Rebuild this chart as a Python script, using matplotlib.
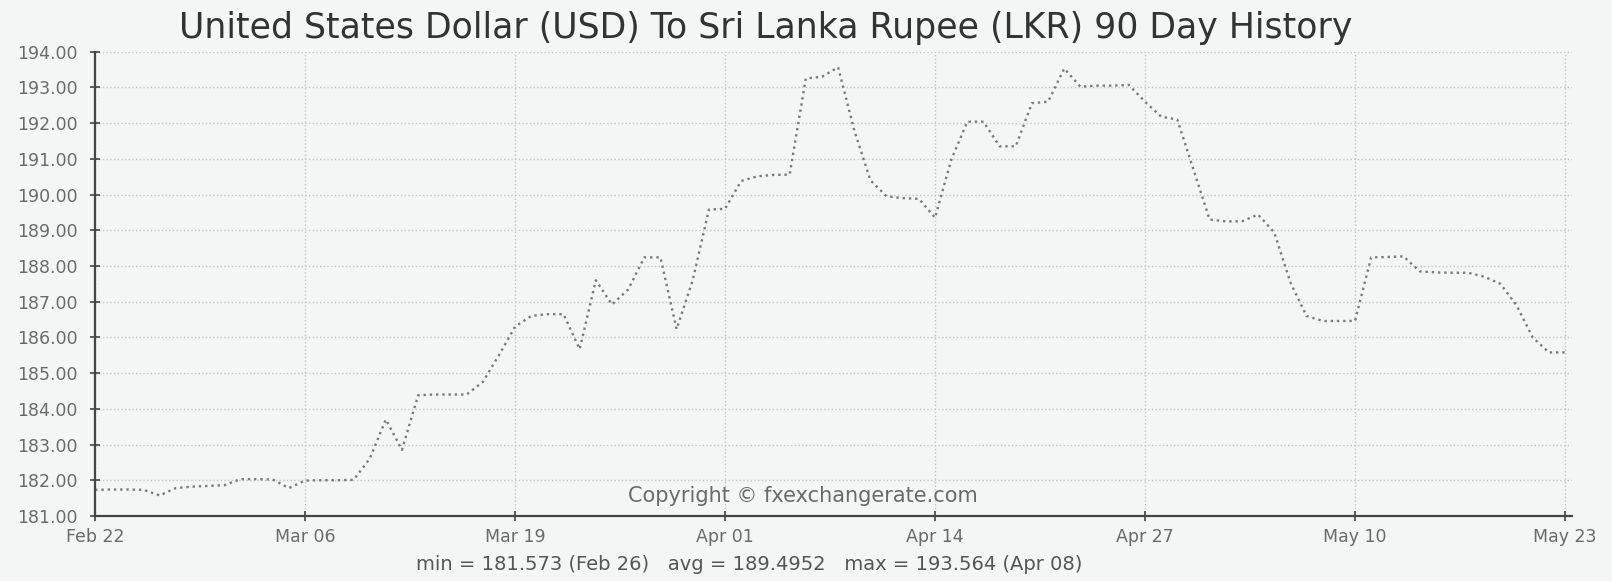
import numpy as np
import pandas as pd
import matplotlib
matplotlib.use("Agg")
import matplotlib.pyplot as plt
import matplotlib.dates as mdates

# daily USD -> LKR rates, Feb 22 .. May 23 (2020)
dates = pd.date_range("2020-02-22", "2020-05-23", freq="D")
rates = [
    181.73, 181.74, 181.74, 181.73, 181.573, 181.78, 181.82, 181.84, 181.86, 182.03,
    182.03, 182.02, 181.78, 181.99, 182.00, 182.00, 182.01, 182.60, 183.70, 182.85,
    184.38, 184.40, 184.40, 184.40, 184.75, 185.50, 186.30, 186.60, 186.65, 186.65,
    185.67, 187.60, 186.92, 187.34, 188.24, 188.24, 186.23, 187.60, 189.58, 189.60,
    190.38, 190.51, 190.55, 190.56, 193.25, 193.30, 193.564, 191.80, 190.40, 189.95,
    189.90, 189.88, 189.35, 190.97, 192.04, 192.04, 191.35, 191.35, 192.56, 192.60,
    193.53, 193.02, 193.05, 193.05, 193.07, 192.60, 192.18, 192.10, 190.70, 189.30,
    189.25, 189.25, 189.44, 188.94, 187.54, 186.60, 186.46, 186.46, 186.46, 188.24,
    188.25, 188.27, 187.85, 187.82, 187.81, 187.81, 187.70, 187.50, 186.90, 186.00,
    185.58, 185.58,
]
tick_dates = pd.date_range("2020-02-22", "2020-05-23", freq="13D")
y_ticks = np.arange(181, 195, 1)

title = "United States Dollar (USD) To Sri Lanka Rupee (LKR) 90 Day History"
stats = "min = 181.573 (Feb 26)   avg = 189.4952   max = 193.564 (Apr 08)"
copyright_txt = "Copyright \u00a9 fxexchangerate.com"

bg = "#f4f5f5"
plt.rcParams["font.family"] = ["DejaVu Sans"]

fig = plt.figure(figsize=(16.12, 5.81), dpi=100, facecolor=bg)
ax = fig.add_axes([0.059, 0.112, 0.916, 0.799], facecolor=bg)

ax.plot(dates, rates, color="#7a7a7a", linestyle=":", linewidth=1.7)

ax.set_ylim(181, 194)
ax.set_xlim(dates[0], dates[-1] + pd.Timedelta(hours=10))
ax.set_yticks(y_ticks)
ax.set_yticklabels(["%.2f" % v for v in y_ticks])
ax.set_xticks(tick_dates)
ax.xaxis.set_major_formatter(mdates.DateFormatter("%b %d"))

ax.grid(True, which="major", axis="both", color="#c4c4c4", linestyle=":", linewidth=1.0)
for s in ["top", "right"]:
    ax.spines[s].set_visible(False)
for s in ["left", "bottom"]:
    ax.spines[s].set_color("#444444")
    ax.spines[s].set_linewidth(1.6)
ax.tick_params(axis="both", direction="inout", length=7, width=1.2, color="#444444",
               labelsize=12.5, labelcolor="#6a6a6a")
ax.tick_params(axis="y", pad=9)
ax.tick_params(axis="x", pad=5)

fig.text(0.475, 0.952, title, ha="center", va="center", fontsize=25, color="#333333")
ax.text(0.479, 0.022, copyright_txt, transform=ax.transAxes, ha="center", va="bottom",
        fontsize=15, color="#6a6a6a")
fig.text(0.465, 0.028, stats, ha="center", va="center", fontsize=14, color="#555555")

fig.savefig("out.png", dpi=100, facecolor=bg)
